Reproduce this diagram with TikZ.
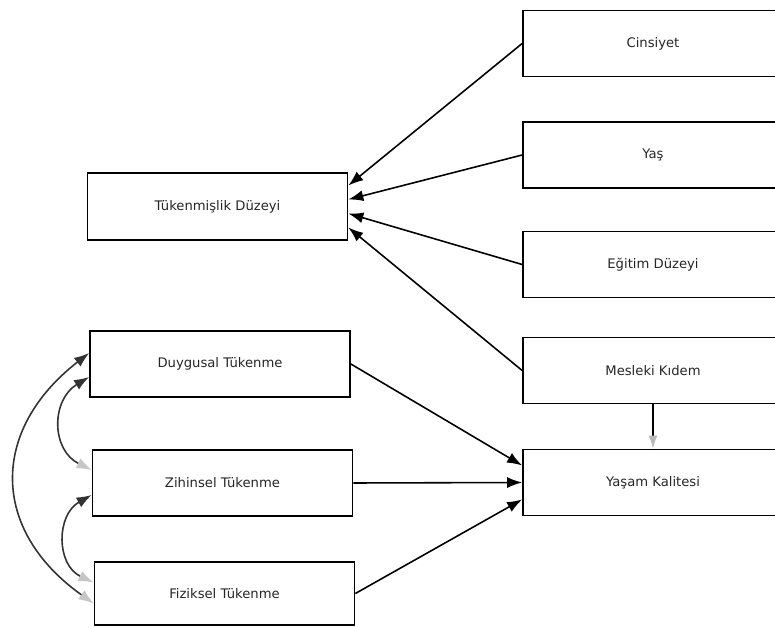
\documentclass[tikz,border=0pt]{standalone}
\usepackage{fontspec}
\setmainfont{DejaVu Sans}
\usetikzlibrary{arrows.meta,calc}

\begin{document}
\begin{tikzpicture}[
    x=0.02cm, y=-0.02cm,
    box/.style={rectangle, draw, line width=1pt, minimum width=5.2cm, minimum height=1.32cm, align=center, font=\fontsize{7.5}{9}\selectfont, text=black!85},
    arr/.style={-{Latex[length=3mm,width=2.2mm]}, line width=0.9pt},
    cov/.style={{Latex[length=3mm,width=2.2mm]}-{Latex[length=3mm,width=2.2mm,color=gray!45]}, line width=0.9pt, black!80}
]
\useasboundingbox (0,0) rectangle (775,628);
\clip (0,0) rectangle (775,628);

% right column
\node[box] (cins) at (653,43.5) {Cinsiyet};
\node[box] (yas) at (653,155) {Yaş};
\node[box] (egit) at (653,264.5) {Eğitim Düzeyi};
\node[box] (kidem) at (653,370.5) {Mesleki Kıdem};
\node[box] (kalite) at (653,482.5) {Yaşam Kalitesi};

% left column
\node[box, minimum height=1.34cm] (tuk) at (217.5,206.5) {Tükenmişlik Düzeyi};
\node[box] (duyg) at (220,364) {Duygusal Tükenme};
\node[box] (zihin) at (222.5,483) {Zihinsel Tükenme};
\node[box, minimum height=1.26cm] (fiz) at (224.5,593.5) {Fiziksel Tükenme};

\draw[arr] (cins.west) -- ($(tuk.east)+(0,-21)$);
\draw[arr] (yas.west) -- ($(tuk.east)+(0,-7)$);
\draw[arr] (egit.west) -- ($(tuk.east)+(0,7)$);
\draw[arr] (kidem.west) -- ($(tuk.east)+(0,21)$);

\draw[arr] (duyg.east) -- ($(kalite.west)+(0,-17)$);
\draw[arr] (zihin.east) -- (kalite.west);
\draw[arr] (fiz.east) -- ($(kalite.west)+(0,17)$);
\draw[-{Latex[length=2.6mm,width=1.8mm,color=gray!55]}, line width=0.9pt] (kidem.south) -- (kalite.north);

% covariances
\draw[cov] ($(duyg.west)+(0,-11)$) .. controls (-10,430) and (-10,530) .. ($(fiz.west)+(0,10)$);
\draw[cov] ($(duyg.west)+(0,13)$) .. controls (51,400) and (51,450) .. ($(zihin.west)+(0,-13)$);
\draw[cov] ($(zihin.west)+(0,12)$) .. controls (56,515) and (56,565) .. ($(fiz.west)+(0,-11)$);
\end{tikzpicture}
\end{document}
